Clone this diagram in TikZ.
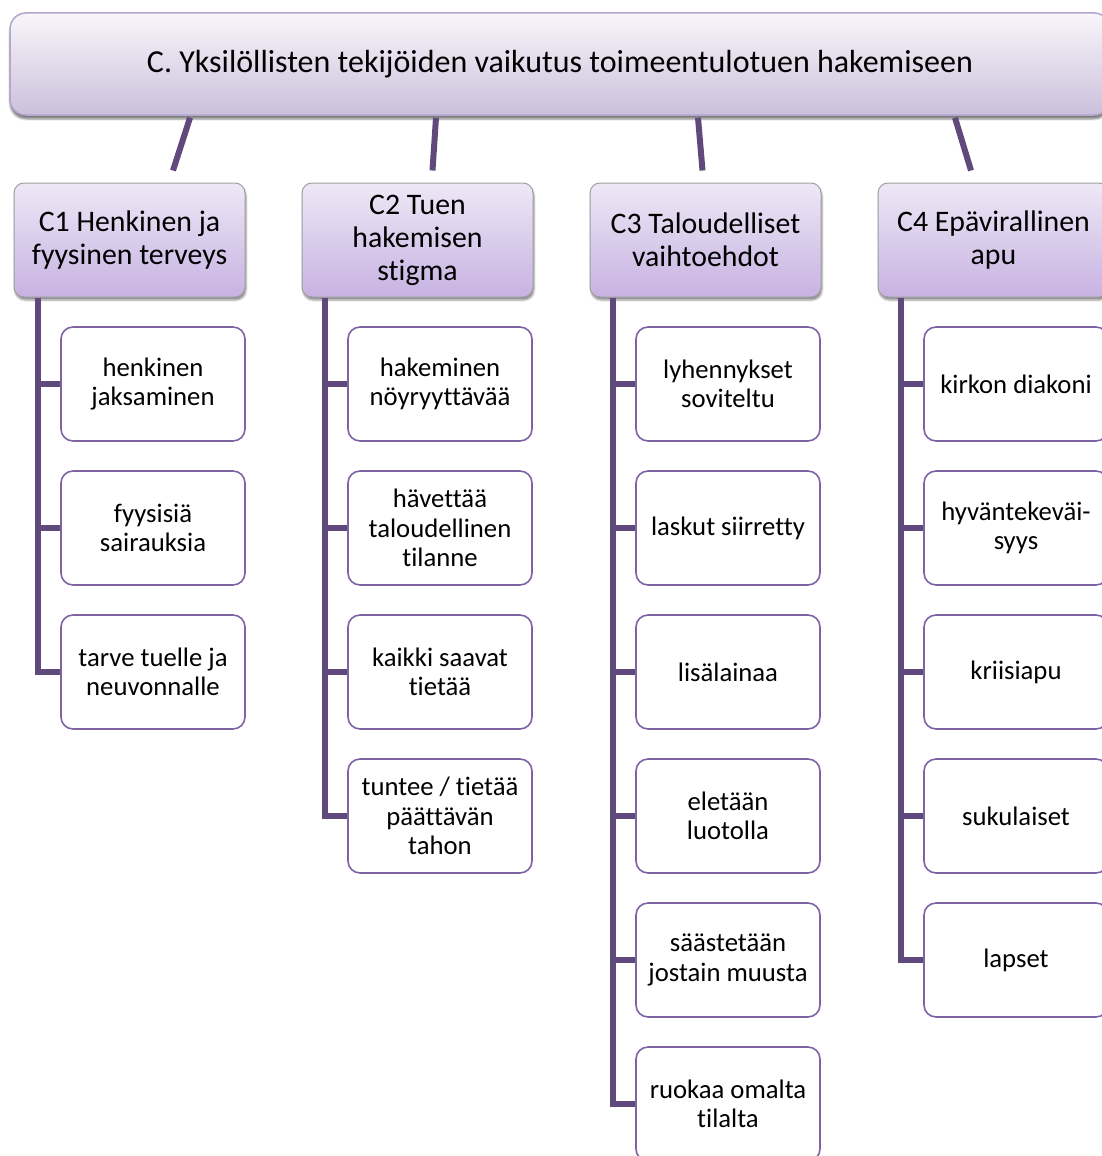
\documentclass[tikz,border=0pt]{standalone}
\usepackage{fontspec}
\setmainfont{Carlito}[Ligatures=NoCommon]
\usetikzlibrary{positioning, calc, shadows.blur}
\definecolor{linkcolor}{HTML}{604A7B}
\definecolor{leafborder}{HTML}{8064A2}
\definecolor{topborder}{HTML}{B3A6CC}
\definecolor{toptop}{HTML}{F8F6FA}
\definecolor{topbottom}{HTML}{CBC0DC}
\definecolor{headtop}{HTML}{EEE8F6}
\definecolor{headbottom}{HTML}{C7B2E2}

\begin{document}
\begin{tikzpicture}[
  x=1pt, y=-1pt,
  topbox/.style={
    rectangle,
    rounded corners=16pt,
    minimum width=1100pt,
    minimum height=102pt,
    draw=topborder,
    line width=1.5pt,
    top color=toptop,
    bottom color=topbottom,
    font=\fontsize{32}{38}\selectfont,
    blur shadow={shadow xshift=0pt, shadow yshift=-4pt, shadow blur steps=4, shadow opacity=50}
  },
  headbox/.style={
    rectangle,
    rounded corners=10pt,
    minimum width=231pt,
    minimum height=114pt,
    draw=gray!75,
    line width=1pt,
    top color=headtop,
    bottom color=headbottom,
    align=center,
    font=\fontsize{29.8}{33}\selectfont,
    blur shadow={shadow xshift=1pt, shadow yshift=-3pt, shadow blur steps=4, shadow opacity=45}
  },
  leafbox/.style={
    rectangle,
    rounded corners=12pt,
    minimum width=184pt,
    minimum height=114pt,
    draw=leafborder,
    line width=1.6pt,
    fill=white,
    align=center,
    font=\fontsize{26.7}{29.5}\selectfont
  },
  link/.style={linkcolor, line width=6pt}
]
  \clip (0,0) rectangle (1102,1156);
  \useasboundingbox (0,0) rectangle (1102,1156);

  % Title
  \node[topbox] (top) at (560,64) {\raisebox{-2pt}{C. Yksilöllisten tekijöiden vaikutus toimeentulotuen hakemiseen}};

  % Heads
  \node[headbox] (c1) at (129.5,240) {C1 Henkinen ja\\fyysinen terveys};
  \node[headbox] (c2) at (417.5,240) {C2 Tuen\\hakemisen\\stigma};
  \node[headbox] (c3) at (705.5,240) {C3 Taloudelliset\\vaihtoehdot};
  \node[headbox] (c4) at (993.5,240) {C4 Epävirallinen\\apu};

  % Leaves of C1
  \node[leafbox] (c1a) at (153,384) {henkinen\\jaksaminen};
  \node[leafbox] (c1b) at (153,528) {fyysisiä\\sairauksia};
  \node[leafbox] (c1c) at (153,672) {tarve tuelle ja\\neuvonnalle};

  % Leaves of C2
  \node[leafbox] (c2a) at (440,384) {hakeminen\\nöyryyttävää};
  \node[leafbox] (c2b) at (440,528) {hävettää\\taloudellinen\\tilanne};
  \node[leafbox] (c2c) at (440,672) {kaikki saavat\\tietää};
  \node[leafbox] (c2d) at (440,816) {tuntee / tietää\\päättävän\\tahon};

  % Leaves of C3
  \node[leafbox] (c3a) at (728,384) {lyhennykset\\soviteltu};
  \node[leafbox] (c3b) at (728,528) {laskut siirretty};
  \node[leafbox] (c3c) at (728,672) {lisälainaa};
  \node[leafbox] (c3d) at (728,816) {eletään\\luotolla};
  \node[leafbox] (c3e) at (728,960) {säästetään\\jostain muusta};
  \node[leafbox] (c3f) at (728,1104) {ruokaa omalta\\tilalta};

  % Leaves of C4
  \node[leafbox] (c4a) at (1016,384) {kirkon diakoni};
  \node[leafbox] (c4b) at (1016,528) {hyväntekeväi-\\syys};
  \node[leafbox] (c4c) at (1016,672) {kriisiapu};
  \node[leafbox] (c4d) at (1016,816) {sukulaiset};
  \node[leafbox] (c4e) at (1016,960) {lapset};

  % Title to heads
  \draw[link] ([xshift=-370pt,yshift=-2pt]top.south) -- ([xshift=43.5pt,yshift=12pt]c1.north);
  \draw[link] ([xshift=-124pt,yshift=-2pt]top.south) -- ([xshift=15pt,yshift=12pt]c2.north);
  \draw[link] ([xshift=138pt,yshift=-2pt]top.south) -- ([xshift=-3pt,yshift=12pt]c3.north);
  \draw[link] ([xshift=395pt,yshift=-2pt]top.south) -- ([xshift=-22.5pt,yshift=12pt]c4.north);

  % Heads to leaves
  \foreach \leaf in {c1a,c1b,c1c}
    \draw[link] ([xshift=24pt]c1.south west) |- (\leaf.west);
  \foreach \leaf in {c2a,c2b,c2c,c2d}
    \draw[link] ([xshift=23pt]c2.south west) |- (\leaf.west);
  \foreach \leaf in {c3a,c3b,c3c,c3d,c3e,c3f}
    \draw[link] ([xshift=23pt]c3.south west) |- (\leaf.west);
  \foreach \leaf in {c4a,c4b,c4c,c4d,c4e}
    \draw[link] ([xshift=23pt]c4.south west) |- (\leaf.west);
\end{tikzpicture}
\end{document}
